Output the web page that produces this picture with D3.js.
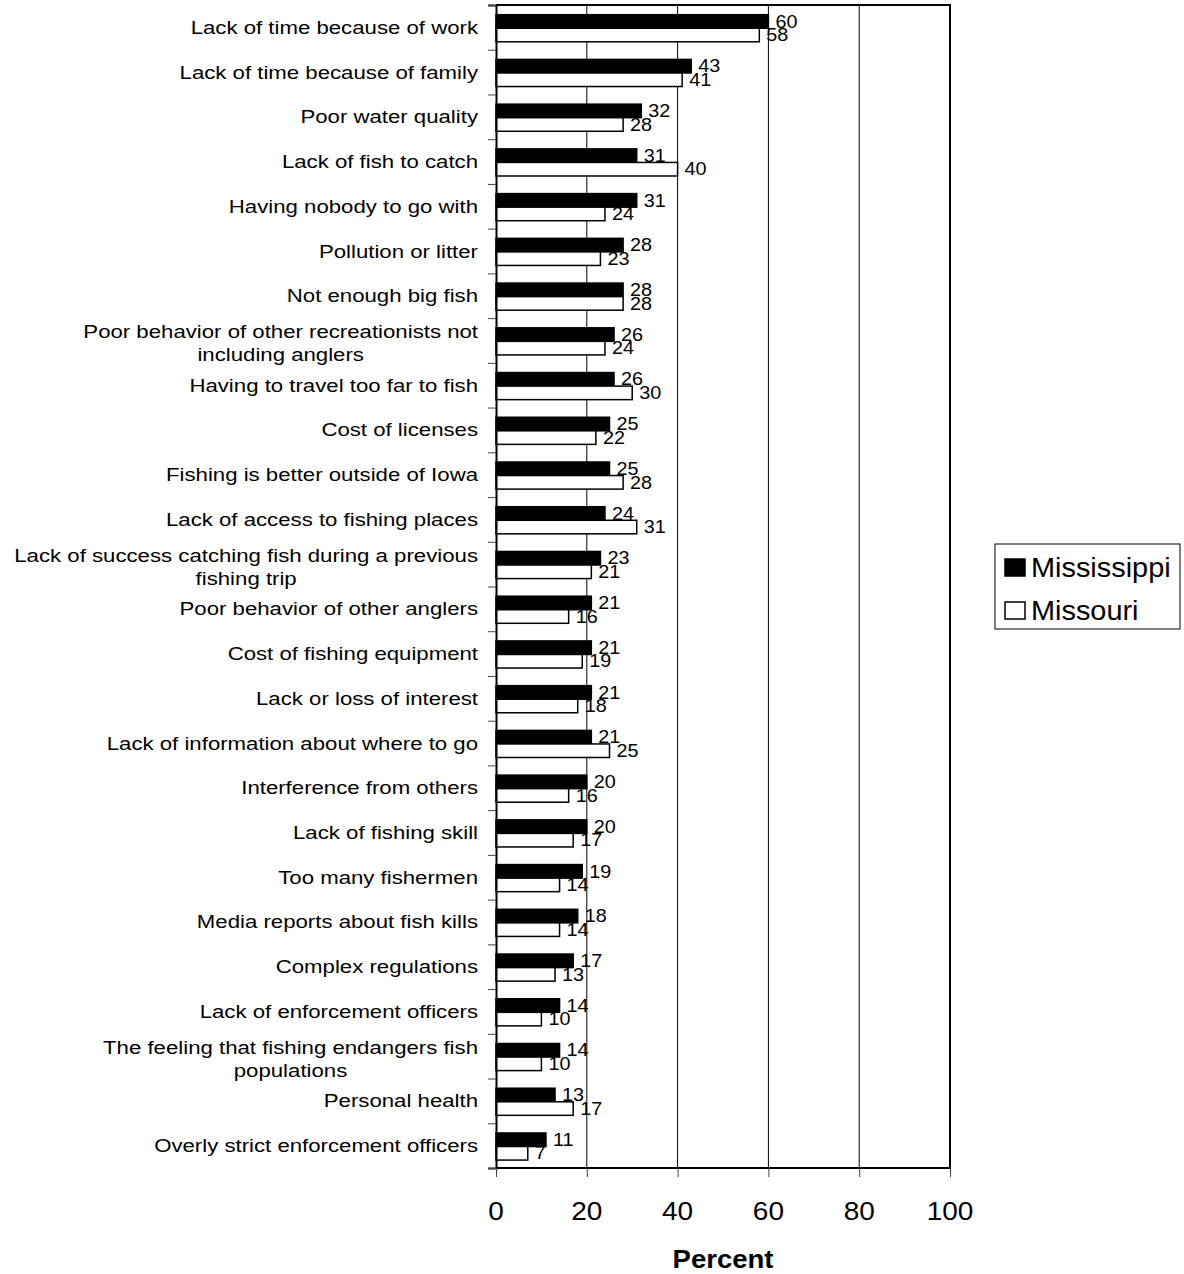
<!DOCTYPE html>
<html>
<head>
<meta charset="utf-8">
<script src="https://cdn.jsdelivr.net/npm/d3@7"></script>
<style>
  body { margin: 0; background: #fff; }
  text { font-family: Arial, "Liberation Sans", sans-serif; fill: #000; }
</style>
</head>
<body>
<svg id="vis"></svg>
<script>
// categories, top to bottom (\n marks the wrapped line)
const categories = [
  "Lack of time because of work",
  "Lack of time because of family",
  "Poor water quality",
  "Lack of fish to catch",
  "Having nobody to go with",
  "Pollution or litter",
  "Not enough big fish",
  "Poor behavior of other recreationists not\nincluding anglers",
  "Having to travel too far to fish",
  "Cost of licenses",
  "Fishing is better outside of Iowa",
  "Lack of access to fishing places",
  "Lack of success catching fish during a previous\nfishing trip",
  "Poor behavior of other anglers",
  "Cost of fishing equipment",
  "Lack or loss of interest",
  "Lack of information about where to go",
  "Interference from others",
  "Lack of fishing skill",
  "Too many fishermen",
  "Media reports about fish kills",
  "Complex regulations",
  "Lack of enforcement officers",
  "The feeling that fishing endangers fish\npopulations",
  "Personal health",
  "Overly strict enforcement officers"
];
const series = ["Mississippi", "Missouri"];
const mississippi = [60, 43, 32, 31, 31, 28, 28, 26, 26, 25, 25, 24, 23, 21, 21, 21, 21, 20, 20, 19, 18, 17, 14, 14, 13, 11];
const missouri    = [58, 41, 28, 40, 24, 23, 28, 24, 30, 22, 28, 31, 21, 16, 19, 18, 25, 16, 17, 14, 14, 13, 10, 10, 17, 7];
const xTicks = [0, 20, 40, 60, 80, 100];

const width = 1184, height = 1274;
const plot = {left: 496, right: 950, top: 5, bottom: 1168};

const svg = d3.select("#vis").attr("width", width).attr("height", height);

// text in the picture is wider than Arial, so stretch it horizontally
function placeText(sel, x, y, sx) {
  sel.attr("x", 0).attr("y", 0)
     .attr("transform", `translate(${x},${y}) scale(${sx},1)`);
  return sel;
}

const x = d3.scaleLinear().domain([0, 100]).range([plot.left, plot.right]);
const y0 = d3.scaleBand().domain(categories).range([plot.top, plot.bottom]).padding(0);
const y1 = d3.scaleBand().domain(series).range([0, y0.bandwidth()])
  .paddingInner(0).paddingOuter(0.65).align(0.55);

const rows = categories.map((c, i) => ({cat: c, values: [
  {s: "Mississippi", v: mississippi[i]},
  {s: "Missouri", v: missouri[i]}
]}));

// gridlines
svg.append("g").selectAll("line")
  .data(xTicks.slice(1, -1))
  .join("line")
  .attr("x1", d => x(d)).attr("x2", d => x(d))
  .attr("y1", plot.top).attr("y2", plot.bottom)
  .attr("stroke", "#000").attr("stroke-width", 1);

// bars
const groups = svg.append("g").selectAll("g")
  .data(rows)
  .join("g")
  .attr("transform", d => `translate(0,${y0(d.cat)})`);

groups.selectAll("rect")
  .data(d => d.values)
  .join("rect")
  .attr("x", x(0))
  .attr("y", d => y1(d.s))
  .attr("width", d => x(d.v) - x(0))
  .attr("height", y1.bandwidth())
  .attr("fill", d => d.s === "Mississippi" ? "#000" : "#fff")
  .attr("stroke", "#000")
  .attr("stroke-width", 1.5);

// data labels
groups.selectAll("text")
  .data(d => d.values)
  .join("text")
  .attr("font-size", 18)
  .attr("dominant-baseline", "central")
  .text(d => d.v)
  .each(function(d) {
    placeText(d3.select(this), x(d.v) + 7, y1(d.s) + y1.bandwidth() / 2, 1.1);
  });

// frame: top, right, bottom
svg.append("path")
  .attr("d", `M${plot.left},${plot.top}H${plot.right}V${plot.bottom}H${plot.left}`)
  .attr("fill", "none").attr("stroke", "#000").attr("stroke-width", 2);

// left axis with ticks at category boundaries
const yAxis = d3.axisLeft(d3.scaleLinear().domain([0, categories.length]).range([plot.top, plot.bottom]))
  .ticks(categories.length).tickSize(8).tickFormat("");
const gy = svg.append("g").attr("transform", `translate(${plot.left},0)`).call(yAxis);
gy.select(".domain").attr("stroke-width", 2);
gy.selectAll(".tick line").attr("stroke", "#444");

// bottom axis
const xAxis = d3.axisBottom(x).tickValues(xTicks).tickSize(9).tickFormat("");
const gx = svg.append("g").attr("transform", `translate(0,${plot.bottom})`).call(xAxis);
gx.select(".domain").remove();
gx.selectAll(".tick line").attr("stroke", "#444");

svg.append("g").selectAll("text")
  .data(xTicks)
  .join("text")
  .attr("font-size", 25)
  .attr("text-anchor", "middle")
  .text(d => d)
  .each(function(d) { placeText(d3.select(this), x(d), 1220, 1.12); });

// axis title
placeText(svg.append("text")
  .attr("font-size", 25).attr("font-weight", "bold")
  .attr("text-anchor", "middle").text("Percent"), (plot.left + plot.right) / 2, 1268, 1.1);

// category labels
const labelX = 478, catSx = 1.2;
rows.forEach(r => {
  const lines = r.cat.split("\n");
  const cy = y0(r.cat) + y0.bandwidth() / 2;
  if (lines.length === 1) {
    placeText(svg.append("text").attr("font-size", 18.5).attr("text-anchor", "end")
      .text(lines[0]), labelX, cy + 6.5, catSx);
  } else {
    const t1 = placeText(svg.append("text").attr("font-size", 18.5).attr("text-anchor", "end")
      .text(lines[0]), labelX, cy - 2.5, catSx);
    const w = t1.node().getComputedTextLength() * catSx;
    placeText(svg.append("text").attr("font-size", 18.5).attr("text-anchor", "middle")
      .text(lines[1]), labelX - w / 2, cy + 20.5, catSx);
  }
});

// legend
const legend = svg.append("g");
legend.append("rect")
  .attr("x", 995).attr("y", 544).attr("width", 185).attr("height", 85)
  .attr("fill", "#fff").attr("stroke", "#000").attr("stroke-width", 1);
series.forEach((s, i) => {
  const base = 577 + i * 43;
  legend.append("rect")
    .attr("x", 1005).attr("y", base - 18).attr("width", 20).attr("height", 17)
    .attr("fill", i === 0 ? "#000" : "#fff").attr("stroke", "#000").attr("stroke-width", 1.5);
  placeText(legend.append("text").attr("font-size", 27).text(s), 1031, base, 1.07);
});
</script>
</body>
</html>
